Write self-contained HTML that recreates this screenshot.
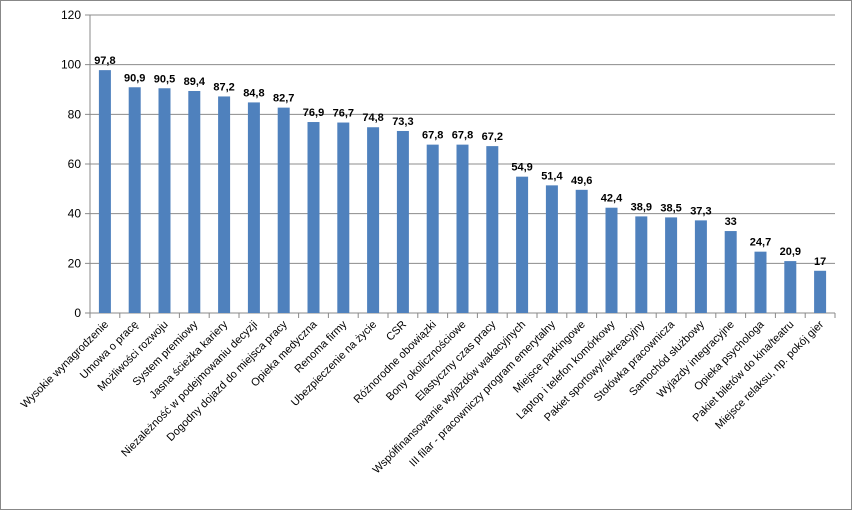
<!DOCTYPE html>
<html><head><meta charset="utf-8"><style>
html,body{margin:0;padding:0;background:#fff;}
svg{display:block;font-family:"Liberation Sans",sans-serif;}
</style></head><body>
<svg id="chart" width="852" height="510">
<rect x="0.5" y="0.5" width="851" height="509" fill="#fff" stroke="#888"/>
<g id="grid"></g><g id="bars"></g><g id="labels"></g>
</svg>
<script>
const categories=["Wysokie wynagrodzenie","Umowa o pracę","Możliwości rozwoju","System premiowy","Jasna ścieżka kariery","Niezależność w podejmowaniu decyzji","Dogodny dojazd do miejsca pracy","Opieka medyczna","Renoma firmy","Ubezpieczenie na życie","CSR","Różnorodne obowiązki","Bony okolicznościowe","Elastyczny czas pracy","Współfinansowanie wyjazdów wakacyjnych","III filar - pracowniczy program emerytalny","Miejsce parkingowe","Laptop i telefon komórkowy","Pakiet sportowy/rekreacyjny","Stołówka pracownicza","Samochód służbowy","Wyjazdy integracyjne","Opieka psychologa","Pakiet biletów do kina/teatru","Miejsce relaksu, np. pokój gier"];
const values=[97.8,90.9,90.5,89.4,87.2,84.8,82.7,76.9,76.7,74.8,73.3,67.8,67.8,67.2,54.9,51.4,49.6,42.4,38.9,38.5,37.3,33,24.7,20.9,17];
const ticks=[0,20,40,60,80,100,120];
const NS="http://www.w3.org/2000/svg";
const L=90,R=835,T=15,B=313,maxV=120;
const y=v=>B-(v/maxV)*(B-T);
const bw=(R-L)/categories.length;
const x=i=>L+bw*(i+0.5);
function mk(tag,attrs,parent){const e=document.createElementNS(NS,tag);for(const k in attrs)e.setAttribute(k,attrs[k]);parent.appendChild(e);return e;}
const grid=document.getElementById('grid'),bars=document.getElementById('bars'),labels=document.getElementById('labels');
ticks.forEach(t=>{
 const ln=mk('line',{x1:L-5,x2:R,y1:y(t),y2:y(t),stroke:t===0?'#888':'#8c8c8c','stroke-width':1},grid);
 
 
 const tx=mk('text',{x:L-9,y:y(t)+4,'text-anchor':'end','font-size':12,fill:'#000'},grid);
 tx.textContent=t;
 
 
});
const ax=mk('line',{x1:L,x2:L,y1:T,y2:B,stroke:'#888'},grid);


for(let i=0;i<=categories.length;i++){
 const tk=mk('line',{x1:L+bw*i,x2:L+bw*i,y1:B,y2:B+5,stroke:'#888'},grid);
 
 
}
categories.forEach((c,i)=>{
 const v=values[i];
 const r=mk('rect',{x:x(i)-6,y:y(v),width:12,height:B-y(v),fill:'#4f81bd'},bars);
 
 
 const vt=mk('text',{x:x(i),y:y(v)-6,'text-anchor':'middle','font-size':11,'font-weight':'bold',fill:'#000'},labels);
 vt.textContent=String(v).replace('.',',');
 
 
 const ct=mk('text',{x:0,y:0,'text-anchor':'end','font-size':11,fill:'#000',transform:`translate(${x(i)+4},${B+12}) rotate(-45)`},labels);
 ct.textContent=c;
 
 
});
</script>
</body></html>
